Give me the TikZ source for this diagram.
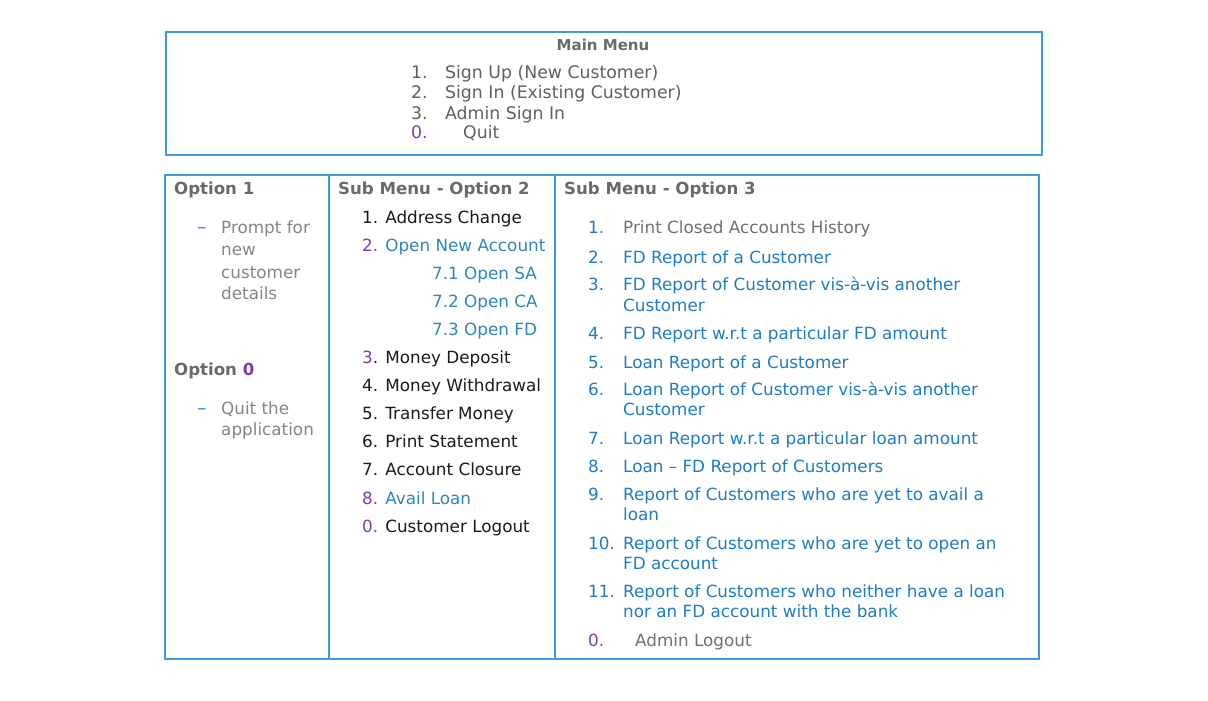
\documentclass[tikz,border=0pt]{standalone}
\usepackage{fontspec}
\setmainfont{DejaVu Sans}
\definecolor{bord}{HTML}{3D9BD9}
\definecolor{hdgray}{HTML}{6A6A6A}
\definecolor{mgray}{HTML}{5F5F5F}
\definecolor{lgray}{HTML}{858585}
\definecolor{igray}{HTML}{707070}
\definecolor{ink}{HTML}{1A1A1A}
\definecolor{pur}{HTML}{7A3DB0}
\definecolor{btwo}{HTML}{2E86B8}
\definecolor{bthree}{HTML}{1C7CC8}
\definecolor{dashc}{HTML}{2A8FD6}
\begin{document}
\begin{tikzpicture}[x=1pt,y=-1pt,
  t/.style={anchor=base west, inner sep=0pt, font=\fontsize{16.8}{20}\selectfont},
  tm/.style={anchor=base west, inner sep=0pt, font=\fontsize{17.3}{20}\selectfont, text=mgray},
  hd/.style={anchor=base west, inner sep=0pt, font=\fontsize{16.6}{20}\selectfont\bfseries, text=hdgray},
  frame/.style={draw=bord, line width=1.3pt}]
\useasboundingbox (0,0) rectangle (1208,701);
% frames
\draw[frame] (166,32) rectangle (1042,155);
\draw[frame] (165,175) rectangle (1039,659);
\draw[frame] (329,175) -- (329,659);
\draw[frame] (555,175) -- (555,659);
% main menu
\node[anchor=base, inner sep=0pt, font=\fontsize{15}{18}\selectfont\bfseries, text=hdgray] (mm) at (603,51) {Main Menu};
\node[tm] (m1n) at (411,79) {1.};
\node[tm] (m1) at (445,79) {Sign Up (New Customer)};
\node[tm] (m2n) at (411,99) {2.};
\node[tm] (m2) at (445,99) {Sign In (Existing Customer)};
\node[tm] (m3n) at (411,119) {3.};
\node[tm] (m3) at (445,119) {Admin Sign In};
\node[tm, text=pur] (m0n) at (411,139) {0.};
\node[tm] (m0) at (463,139) {Quit};
% option 1 column
\node[hd] (o1) at (174,194) {Option 1};
\node[t, text=dashc, font=\fontsize{19}{20}\selectfont] (o1d) at (197,233) {–};
\node[t, text=lgray] (o1a) at (221,233) {Prompt for};
\node[t, text=lgray] (o1b) at (221,255) {new};
\node[t, text=lgray] (o1c) at (221,278) {customer};
\node[t, text=lgray] (o1e) at (221,299) {details};
\node[hd] (o0) at (174,375) {Option \textcolor{pur}{0}};
\node[t, text=dashc, font=\fontsize{19}{20}\selectfont] (o0d) at (197,414) {–};
\node[t, text=lgray] (o0a) at (221,414) {Quit the};
\node[t, text=lgray] (o0b) at (221,435) {application};
% sub menu option 2
\node[hd] (s2) at (338,194) {Sub Menu - Option 2};
\node[t, text=ink] (s2a) at (362,223) {1. Address Change};
\node[t, text=btwo] (s2b) at (362,251) {\textcolor{pur}{2.} Open New Account};
\node[t, text=btwo] (s2c) at (432,279) {7.1 Open SA};
\node[t, text=btwo] (s2d) at (432,307) {7.2 Open CA};
\node[t, text=btwo] (s2e) at (432,335) {7.3 Open FD};
\node[t, text=ink] (s2f) at (362,363) {\textcolor{pur}{3}. Money Deposit};
\node[t, text=ink] (s2g) at (362,391) {4. Money Withdrawal};
\node[t, text=ink] (s2h) at (362,419) {5. Transfer Money};
\node[t, text=ink] (s2i) at (362,447) {6. Print Statement};
\node[t, text=ink] (s2j) at (362,475) {7. Account Closure};
\node[t, text=btwo] (s2k) at (362,504) {\textcolor{pur}{8.} Avail Loan};
\node[t, text=ink] (s2l) at (362,532) {\textcolor{pur}{0.} Customer Logout};
% sub menu option 3
\node[hd] (s3) at (564,194) {Sub Menu - Option 3};
\node[t, text=bthree] (n1) at (588,233) {1.};
\node[t, text=igray] (r1) at (623,233) {Print Closed Accounts History};
\node[t, text=bthree] (n2) at (588,263) {2.};
\node[t, text=bthree] (r2) at (623,263) {FD Report of a Customer};
\node[t, text=bthree] (n3) at (588,290) {3.};
\node[t, text=bthree] (r3) at (623,290) {FD Report of Customer vis-à-vis another};
\node[t, text=bthree] (r3b) at (623,311) {Customer};
\node[t, text=bthree] (n4) at (588,339) {4.};
\node[t, text=bthree] (r4) at (623,339) {FD Report w.r.t a particular FD amount};
\node[t, text=bthree] (n5) at (588,368) {5.};
\node[t, text=bthree] (r5) at (623,368) {Loan Report of a Customer};
\node[t, text=bthree] (n6) at (588,395) {6.};
\node[t, text=bthree] (r6) at (623,395) {Loan Report of Customer vis-à-vis another};
\node[t, text=bthree] (r6b) at (623,415) {Customer};
\node[t, text=bthree] (n7) at (588,444) {7.};
\node[t, text=bthree] (r7) at (623,444) {Loan Report w.r.t a particular loan amount};
\node[t, text=bthree] (n8) at (588,472) {8.};
\node[t, text=bthree] (r8) at (623,472) {Loan – FD Report of Customers};
\node[t, text=bthree] (n9) at (588,500) {9.};
\node[t, text=bthree] (r9) at (623,500) {Report of Customers who are yet to avail a};
\node[t, text=bthree] (r9b) at (623,520) {loan};
\node[t, text=bthree] (n10) at (588,549) {10.};
\node[t, text=bthree] (r10) at (623,549) {Report of Customers who are yet to open an};
\node[t, text=bthree] (r10b) at (623,569) {FD account};
\node[t, text=bthree] (n11) at (588,597) {11.};
\node[t, text=bthree] (r11) at (623,597) {Report of Customers who neither have a loan};
\node[t, text=bthree] (r11b) at (623,617) {nor an FD account with the bank};
\node[t, text=pur] (n0) at (588,646) {0.};
\node[t, text=igray] (r0) at (635,646) {Admin Logout};
\end{tikzpicture}
\end{document}
